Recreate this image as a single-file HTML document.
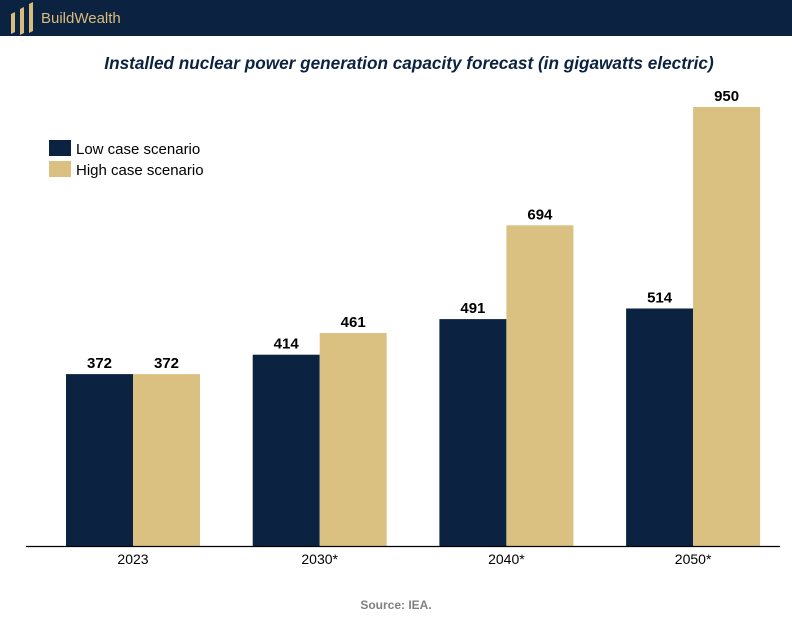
<!DOCTYPE html>
<html><head><meta charset="utf-8">
<style>
body{margin:0;width:792px;height:612px;background:#fff;overflow:hidden;font-family:"Liberation Sans",sans-serif;}
</style></head><body>
<svg width="792" height="612" xmlns="http://www.w3.org/2000/svg" id="chart">
  <rect x="0" y="0" width="792" height="36" fill="#0c2241"/>
  <g fill="#d8bc7c">
    <polygon points="11,14 15,12 15,32 11,34"/>
    <polygon points="20,9 24,7 24,33 20,35"/>
    <polygon points="29,4 33,2 33,31 29,33"/>
  </g>
  <text x="41" y="23" font-size="15" fill="#d8bc7c">BuildWealth</text>
  <text x="409" y="69" text-anchor="middle" font-size="17.2" font-weight="bold" font-style="italic" fill="#0c2241">Installed nuclear power generation capacity forecast (in gigawatts electric)</text>
  <g>
    <rect x="49" y="140" width="22" height="16" fill="#0c2241"/>
    <text x="76" y="154" font-size="15" fill="#000">Low case scenario</text>
    <rect x="49" y="161" width="22" height="16" fill="#dac182"/>
    <text x="76" y="175" font-size="15" fill="#000">High case scenario</text>
  </g>
  <g id="bars"></g>
  <line x1="26" y1="546.5" x2="780" y2="546.5" stroke="#000" stroke-width="1.2"/>
  <text x="396" y="609" text-anchor="middle" font-size="12" font-weight="bold" fill="#808080">Source: IEA.</text>
</svg>
<script>
const categories = ["2023", "2030*", "2040*", "2050*"];
const lowValues = [372, 414, 491, 514];
const highValues = [372, 461, 694, 950];

const NS = "http://www.w3.org/2000/svg";
const baseY = 546, topY = 107, maxV = 950;
function yScale(v){ return baseY - (baseY - topY) * v / maxV; }
function xCenter(i){ return 133 + i * 186.7; }
const bw = 67;
const g = document.getElementById("bars");
function mk(tag, attrs){ const e = document.createElementNS(NS, tag); for (const k in attrs) e.setAttribute(k, attrs[k]); return e; }
categories.forEach((c, i) => {
  const cx = xCenter(i);
  [[lowValues[i], cx - bw, "#0c2241", "low"], [highValues[i], cx, "#dac182", "high"]].forEach(([v, x, col, s]) => {
    const y = yScale(v);
    const r = mk("rect", {x: x, y: y, width: bw, height: baseY - y, fill: col});
    
    
    g.appendChild(r);
    const t = mk("text", {x: x + bw / 2, y: y - 6, "text-anchor": "middle", "font-size": "15", "font-weight": "bold", fill: "#000"});
    t.textContent = v;
    
    
    g.appendChild(t);
  });
  const l = mk("text", {x: cx, y: 564, "text-anchor": "middle", "font-size": "14", fill: "#000"});
  l.textContent = c;
  
  
  g.appendChild(l);
});
</script>
</body></html>
